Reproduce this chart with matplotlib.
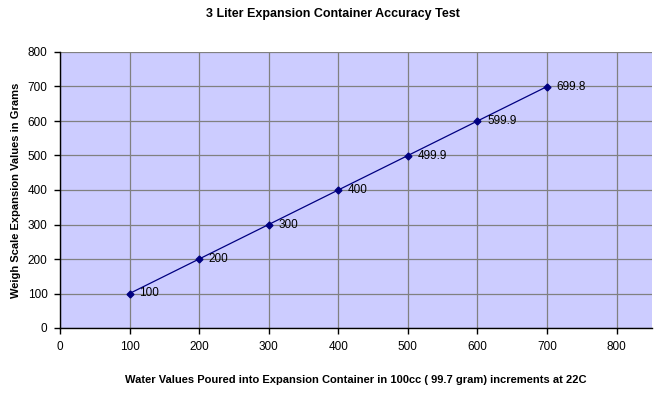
import matplotlib
matplotlib.use("Agg")
import matplotlib.pyplot as plt

plt.rcParams['font.family'] = ['Liberation Sans', 'DejaVu Sans']

x_vals = [100, 200, 300, 400, 500, 600, 700]
y_vals = [100, 200, 300, 400, 499.9, 599.9, 699.8]
point_labels = ["100", "200", "300", "400", "499.9", "599.9", "699.8"]

title = "3 Liter Expansion Container Accuracy Test"
xlabel = "Water Values Poured into Expansion Container in 100cc ( 99.7 gram) increments at 22C"
ylabel = "Weigh Scale Expansion Values in Grams"

fig = plt.figure(figsize=(6.66, 3.96), dpi=100)
ax = fig.add_axes([60/666, 1 - 328/396, 592/666, 276/396])
ax.set_facecolor('#CCCCFF')

ax.plot(x_vals, y_vals, color='#000080', lw=0.9, marker='D', markersize=3.5,
        markerfacecolor='#000080', markeredgecolor='#000080', zorder=3)
for xv, yv, lab in zip(x_vals, y_vals, point_labels):
    ax.annotate(lab, (xv, yv), xytext=(7, 0), textcoords='offset points',
                ha='left', va='center', fontsize=8.5, color='black')

ax.set_xlim(0, 851)
ax.set_ylim(0, 800)
ax.set_xticks(range(0, 801, 100))
ax.set_yticks(range(0, 801, 100))
ax.grid(True, color='#808080', lw=0.9)
ax.set_axisbelow(True)
for s in ['top', 'right']:
    ax.spines[s].set_visible(False)
for s in ['left', 'bottom']:
    ax.spines[s].set_color('black')
    ax.spines[s].set_linewidth(1)
ax.tick_params(axis='both', direction='out', length=4, width=1, labelsize=8.5, pad=5)

fig.text(0.5 + 0.0, 1 - 14/396, title, ha='center', va='center', fontsize=9, fontweight='bold')
fig.text(356/666, 1 - 380/396, xlabel, ha='center', va='center', fontsize=8, fontweight='bold')
fig.text(16/666, 1 - 190/396, ylabel, ha='center', va='center', fontsize=8, fontweight='bold', rotation=90)

fig.savefig('out.png', dpi=100)
